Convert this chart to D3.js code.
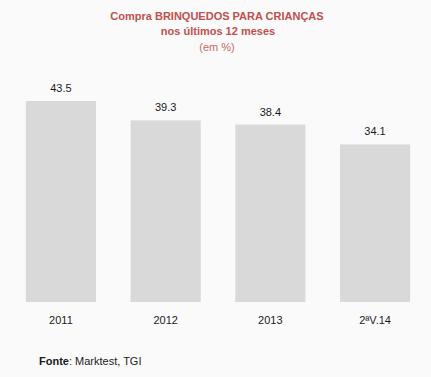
<!DOCTYPE html>
<html>
<head>
<meta charset="utf-8">
<script src="https://cdn.jsdelivr.net/npm/d3@7"></script>
<style>
  body { margin: 0; background: #fafafa; }
  svg { display: block; font-family: "Liberation Sans", Arial, sans-serif; }
</style>
</head>
<body>
<svg width="431" height="377"></svg>
<script>
// data
var categories = ["2011", "2012", "2013", "2ªV.14"];
var values = [43.5, 39.3, 38.4, 34.1];
var titleLines = ["Compra BRINQUEDOS PARA CRIANÇAS", "nos últimos 12 meses", "(em %)"];

var svg = d3.select("svg");

svg.append("rect")
    .attr("width", 431)
    .attr("height", 377)
    .attr("fill", "#fafafa");

var x = d3.scaleBand()
    .domain(categories)
    .range([8.6, 427.4])
    .paddingInner(0.33)
    .paddingOuter(0.165);

var y = d3.scaleLinear()
    .domain([0, 43.5])
    .range([302, 101]);

// bars
svg.selectAll(".bar")
    .data(values)
    .enter().append("rect")
    .attr("class", "bar")
    .attr("x", function(d, i) { return x(categories[i]); })
    .attr("y", function(d) { return y(d); })
    .attr("width", x.bandwidth())
    .attr("height", function(d) { return y(0) - y(d); })
    .attr("fill", "#d9d9d9");

// value labels
svg.selectAll(".val")
    .data(values)
    .enter().append("text")
    .attr("class", "val")
    .attr("x", function(d, i) { return x(categories[i]) + x.bandwidth() / 2; })
    .attr("y", function(d) { return y(d) - 9; })
    .attr("text-anchor", "middle")
    .attr("font-size", 11)
    .attr("fill", "#1a1a1a")
    .text(function(d) { return d.toFixed(1); });

// category axis (no line, no ticks)
var xAxis = svg.append("g")
    .attr("transform", "translate(0,302)")
    .call(d3.axisBottom(x).tickSize(0).tickPadding(14));
xAxis.select(".domain").remove();
xAxis.selectAll("text")
    .attr("font-size", 11)
    .attr("font-family", "Liberation Sans, Arial, sans-serif")
    .attr("fill", "#1a1a1a");

// title
svg.append("text")
    .attr("x", 217).attr("y", 20)
    .attr("text-anchor", "middle")
    .attr("font-size", 11).attr("font-weight", "bold")
    .attr("fill", "#c0504d")
    .text(titleLines[0]);
svg.append("text")
    .attr("x", 218).attr("y", 35)
    .attr("text-anchor", "middle")
    .attr("font-size", 11).attr("font-weight", "bold")
    .attr("fill", "#c0504d")
    .text(titleLines[1]);
svg.append("text")
    .attr("x", 217).attr("y", 51)
    .attr("text-anchor", "middle")
    .attr("font-size", 11)
    .attr("fill", "#c86a66")
    .text(titleLines[2]);

// source
var src = svg.append("text")
    .attr("x", 39).attr("y", 365)
    .attr("font-size", 11)
    .attr("fill", "#1a1a1a");
src.append("tspan").attr("font-weight", "bold").text("Fonte");
src.append("tspan").text(": Marktest, TGI");
</script>
</body>
</html>
